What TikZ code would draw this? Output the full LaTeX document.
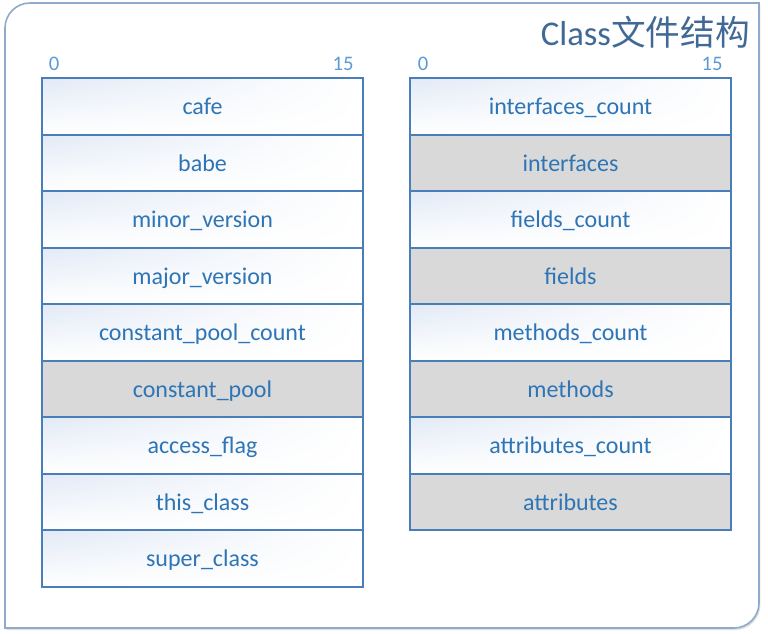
\documentclass[tikz,border=0pt]{standalone}
\usepackage{fontspec}
\setmainfont{Carlito}
\newfontfamily\cjk{Noto Sans CJK SC}
\usetikzlibrary{positioning,shadows,shadings}
\definecolor{rowtext}{RGB}{46,117,182}
\definecolor{rowline}{RGB}{74,126,187}
\definecolor{frameline}{RGB}{143,170,203}
\definecolor{titletext}{RGB}{65,105,150}
\definecolor{numtext}{RGB}{91,155,213}
\definecolor{poolgray}{RGB}{217,217,217}
\definecolor{tintblue}{RGB}{226,234,246}

\begin{document}
\begin{tikzpicture}
   [x=0.75pt,y=-0.75pt,
    cell/.style={rectangle,draw=rowline,line width=1.5pt,outer sep=0pt,inner sep=0pt,
	 minimum width=240.75pt,minimum height=42.4pt,text=rowtext,
	 text height=14pt,text depth=1.7pt,font=\fontsize{18}{22}\selectfont},
	entry/.style={cell,upper left=tintblue,upper right=white,
			lower left=white,lower right=white},
	grayentry/.style={cell,fill=poolgray},
	num/.style={text=numtext,font=\fontsize{15.5}{18}\selectfont,inner sep=0pt}]
\useasboundingbox (0,0) rectangle (768,633);
\draw [draw=frameline,line width=1.2pt,fill=white,
	drop shadow={opacity=0.25,shadow xshift=1pt,shadow yshift=-1.5pt}]
	(5,628) -- (5,28) arc (180:270:25) -- (759,3) -- (759,603)
	arc (0:90:25) -- cycle;
\node [anchor=east,text=titletext,font=\fontsize{26}{31}\selectfont,inner sep=0pt]
	(title) at (750,32) {Class{\cjk 文件结构}};
% left column
\node [num] (lzero) at (54,64) {0};
\node [num] (lfifteen) at (343,64) {15};
\node [entry] (cafe) at (202.5,106.3) {cafe};
\node [entry,below=0pt of cafe] (babe) {babe};
\node [entry,below=0pt of babe] (minor) {minor\_version};
\node [entry,below=0pt of minor] (major) {major\_version};
\node [entry,below=0pt of major] (cpcount) {constant\_pool\_count};
\node [grayentry,below=0pt of cpcount] (cpool) {constant\_pool};
\node [entry,below=0pt of cpool] (access) {access\_flag};
\node [entry,below=0pt of access] (this) {this\_class};
\node [entry,below=0pt of this] (super) {super\_class};
% right column
\node [num] (rzero) at (423,64) {0};
\node [num] (rfifteen) at (712,64) {15};
\node [entry] (icount) at (570.5,106.3) {interfaces\_count};
\node [grayentry,below=0pt of icount] (ifaces) {interfaces};
\node [entry,below=0pt of ifaces] (fcount) {fields\_count};
\node [grayentry,below=0pt of fcount] (fields) {fields};
\node [entry,below=0pt of fields] (mcount) {methods\_count};
\node [grayentry,below=0pt of mcount] (methods) {methods};
\node [entry,below=0pt of methods] (acount) {attributes\_count};
\node [grayentry,below=0pt of acount] (attrs) {attributes};
\end{tikzpicture}
\end{document}
